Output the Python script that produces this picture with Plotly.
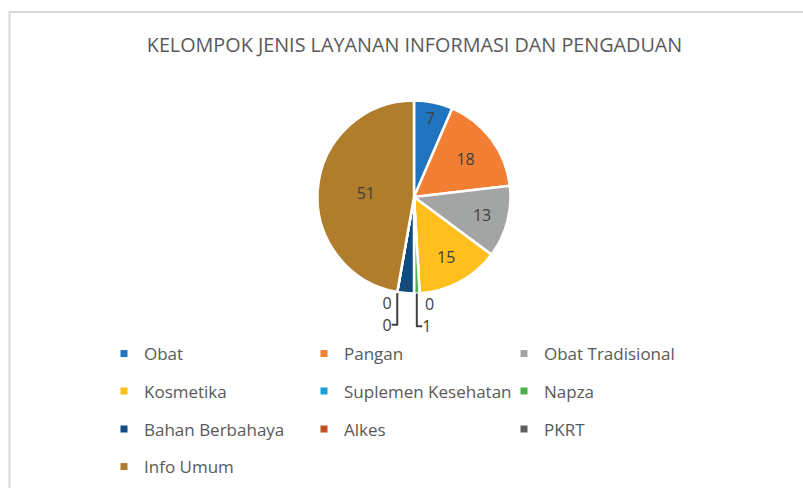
import plotly.graph_objects as go

# ---- data ----
categories = ["Obat", "Pangan", "Obat Tradisional",
              "Kosmetika", "Suplemen Kesehatan", "Napza",
              "Bahan Berbahaya", "Alkes", "PKRT",
              "Info Umum"]
values = [7, 18, 13, 15, 0, 1, 3, 0, 0, 51]
colors = ["#1F74BD", "#F27F33", "#A3A5A5", "#FFC01D", "#1A9FDC",
          "#4DAF4A", "#0F4A82", "#C44E22", "#5E5E5E", "#B07D2C"]
title_text = "KELOMPOK JENIS LAYANAN INFORMASI DAN PENGADUAN"

W, H = 803, 488
FONT = "Open Sans"
TXT = "#595959"

fig = go.Figure()

text_pos = ["inside" if v >= 3 else "outside" for v in values]

CX, CY, R = 414, 197, 96.5
fig.add_trace(go.Pie(
    labels=categories,
    values=values,
    sort=False,
    direction="clockwise",
    rotation=0,
    marker=dict(colors=colors, line=dict(color="white", width=2.5)),
    texttemplate="%{value}",
    textposition=text_pos,
    insidetextorientation="horizontal",
    textfont=dict(family=FONT, size=16, color="#404040"),
    outsidetextfont=dict(family=FONT, size=16, color="#404040"),
    showlegend=False,
    domain=dict(x=[(CX - R) / W, (CX + R) / W],
                y=[(H - CY - R) / H, (H - CY + R) / H]),
    hoverinfo="label+value",
))

legend_keys = ["legend", "legend2", "legend3", "legend4"]
for i, (cat, col) in enumerate(zip(categories, colors)):
    fig.add_trace(go.Scatter(
        x=[None], y=[None], mode="markers", name=cat,
        marker=dict(symbol="square", size=7, color=col),
        legend=legend_keys[i // 3], showlegend=True, hoverinfo="skip",
    ))

row_centers = [353.5, 391, 429, 466.5]
legend_layout = {}
for k, yc in zip(legend_keys, row_centers):
    legend_layout[k] = dict(
        orientation="h", x=104 / W, xanchor="left",
        y=(H - (yc - 17.5)) / H, yanchor="top",
        entrywidth=155, entrywidthmode="pixels",
        font=dict(family=FONT, size=17, color=TXT),
        bgcolor="rgba(0,0,0,0)", borderwidth=0,
    )

fig.update_layout(
    width=W, height=H,
    margin=dict(l=0, r=0, t=0, b=0),
    paper_bgcolor="white", plot_bgcolor="white",
    title=dict(text=title_text, x=414.5 / W, xanchor="center", xref="paper",
               y=1 - 45 / H, yref="container", yanchor="middle",
               font=dict(family=FONT, size=19.8, color=TXT)),
    xaxis=dict(visible=False), yaxis=dict(visible=False),
    shapes=[dict(type="rect", xref="paper", yref="paper",
                 x0=9.5 / W, x1=1.05, y0=-0.05, y1=1 - 12 / H,
                 line=dict(color="#D9D9D9", width=2), layer="below")],
    **legend_layout,
)

fig.write_html("out.html",
               config={"displayModeBar": False},
               post_script="document.body.style.margin='0px';"
                           "document.body.style.overflow='hidden';")
